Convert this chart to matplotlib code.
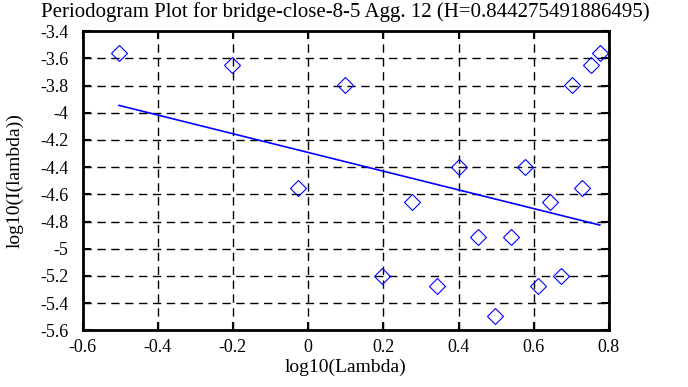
import matplotlib
matplotlib.use("Agg")
import matplotlib.pyplot as plt

# periodogram points (log10 lambda, log10 I(lambda))
log_lambda = [-0.5029, -0.2018, -0.0258, 0.0992, 0.1961, 0.2753, 0.3422, 0.4002, 0.4514, 0.4971,
              0.5385, 0.5763, 0.6111, 0.6433, 0.6732, 0.7012, 0.7276, 0.7524, 0.7759]
log_I = [-3.557, -3.647, -4.556, -3.799, -5.200, -4.654, -5.274, -4.397, -4.912, -5.493,
         -4.912, -4.397, -5.274, -4.654, -5.200, -3.799, -4.556, -3.647, -3.557]

# fitted line endpoints
fit_x = [-0.5029, 0.7759]
fit_y = [-3.946, -4.826]

title = "Periodogram Plot for bridge-close-8-5 Agg. 12 (H=0.844275491886495)"
xticks = [-0.6, -0.4, -0.2, 0, 0.2, 0.4, 0.6, 0.8]
yticks = [-3.4, -3.6, -3.8, -4, -4.2, -4.4, -4.6, -4.8, -5, -5.2, -5.4, -5.6]

plt.rcParams['font.family'] = ['Liberation Serif', 'DejaVu Serif']

fig = plt.figure(figsize=(6.88, 3.87), dpi=100)
ax = fig.add_axes([0.12, 0.1465, 0.765, 0.773])

ax.plot(log_lambda, log_I, linestyle='none', marker='D', markersize=8,
        markerfacecolor='none', markeredgecolor='blue', markeredgewidth=0.8)
ax.plot(fit_x, fit_y, color='blue', linewidth=1.2)

ax.set_xlim(-0.6, 0.8)
ax.set_ylim(-5.6, -3.4)
ax.set_xticks(xticks)
ax.set_xticklabels([f"{v:g}" for v in xticks])
ax.set_yticks(yticks)
ax.set_yticklabels([f"{v:g}" for v in yticks])
ax.grid(True, color='black', linestyle=(0, (6, 4)), linewidth=1)
ax.tick_params(direction='in', length=6, width=1.5, top=True, right=True, labelsize=13)
ax.tick_params(axis='y', pad=10)
ax.tick_params(axis='x', pad=6)
for s in ax.spines.values():
    s.set_linewidth(2)

ax.set_title(title, fontsize=15, pad=10)
ax.set_xlabel("log10(Lambda)", fontsize=14, labelpad=2)
ax.set_ylabel("log10(I(lambda))", fontsize=14, labelpad=12)

fig.savefig("out.png", dpi=100)
